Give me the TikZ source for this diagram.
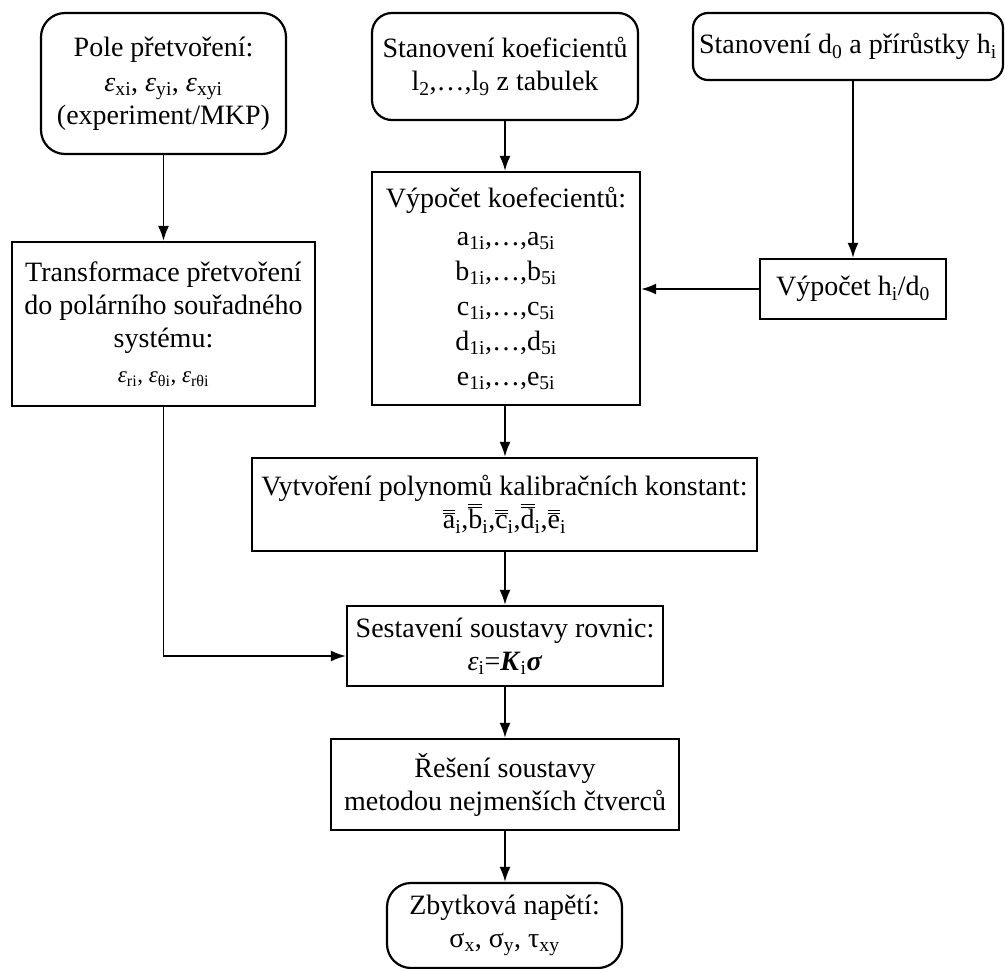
\documentclass[tikz,border=0pt]{standalone}
\usepackage{fontspec}
\setmainfont{Liberation Serif}
\usetikzlibrary{arrows.meta,calc}
\newcommand{\fsz}{\fontsize{28}{33}\selectfont}
\newcommand{\fsm}{\fontsize{23}{30}\selectfont}
\newcommand{\db}[1]{\leavevmode\vbox{\hrule height .9pt\kern2pt\hrule height .9pt\kern1.8pt\hbox{#1}}}
\newcommand{\eps}{\textit{ε}}
\tikzset{
  box/.style={draw, line width=2.2pt, inner sep=0pt, align=center, font=\fsz},
  rbox/.style={box, rounded corners=24pt},
  arr/.style={-{Latex[length=15pt,width=11pt]}, line width=1.9pt}
}
\begin{document}
\begin{tikzpicture}[x=1pt,y=-1pt]
\useasboundingbox[fill=white] (0,0) rectangle (1005,969);

\node[rbox, minimum width=245pt, minimum height=141pt] (b1) at (163.5,83.5)
  {Pole přetvoření:\\[2pt] \eps\textsubscript{xi}, \eps\textsubscript{yi}, \eps\textsubscript{xyi}\\ (experiment/MKP)};
\node[rbox, rounded corners=20pt, minimum width=266pt, minimum height=107pt] (b2) at (505,66.5)
  {Stanovení koeficientů\\ l\textsubscript{2},…,l\textsubscript{9} z tabulek};
\node[rbox, rounded corners=15pt, minimum width=310pt, minimum height=67pt] (b3) at (848,46.5)
  {Stanovení d\textsubscript{0} a přírůstky h\textsubscript{i}};
\node[box, minimum width=303pt, minimum height=164pt] (b4) at (163.5,324)
  {Transformace přetvoření\\ do polárního souřadného\\ systému:\\[2pt] {\fsm\eps\textsubscript{ri}, \eps\textsubscript{θi}, \eps\textsubscript{rθi}}};
\node[box, minimum width=268pt, minimum height=233pt] (b5) at (506,288.5)
  {Výpočet koefecientů:\\[5pt] a\textsubscript{1i},…,a\textsubscript{5i}\\[2pt] b\textsubscript{1i},…,b\textsubscript{5i}\\[2pt]
   c\textsubscript{1i},…,c\textsubscript{5i}\\[2pt] d\textsubscript{1i},…,d\textsubscript{5i}\\[2pt] e\textsubscript{1i},…,e\textsubscript{5i}};
\node[box, minimum width=186pt, minimum height=60pt] (b6) at (853,289)
  {Výpočet h\textsubscript{i}/d\textsubscript{0}};
\node[box, minimum width=505pt, minimum height=93pt] (b7) at (504.5,504.5)
  {Vytvoření polynomů kalibračních konstant:\\ \db{a}\textsubscript{i},\db{b}\textsubscript{i},\db{c}\textsubscript{i},\db{d}\textsubscript{i},\db{e}\textsubscript{i}};
\node[box, minimum width=316pt, minimum height=80pt] (b8) at (505,646)
  {Sestavení soustavy rovnic:\\ \eps\textsubscript{i}=\textbf{\textit{K}}\textsubscript{i}\textbf{\textit{σ}}};
\node[box, minimum width=348pt, minimum height=91pt] (b9) at (505,784.5)
  {Řešení soustavy\\ metodou nejmenších čtverců};
\node[rbox, minimum width=235pt, minimum height=85pt] (b10) at (504.5,925.5)
  {Zbytková napětí:\\ σ\textsubscript{x}, σ\textsubscript{y}, τ\textsubscript{xy}};

\draw[arr] (b1.south) -- (b1.south |- b4.north);
\draw[arr] (b2.south) -- (b2.south |- b5.north);
\draw[arr] (b6.north |- b3.south) -- (b6.north);
\draw[arr] (b6.west) -- (b5.east |- b6.west);
\draw[arr] (b2.south |- b5.south) -- (b2.south |- b7.north);
\draw[arr] (b2.south |- b7.south) -- (b2.south |- b8.north);
\draw[arr] (b4.south) |- ([yshift=-10pt]b8.west);
\draw[arr] (b2.south |- b8.south) -- (b2.south |- b9.north);
\draw[arr] (b2.south |- b9.south) -- (b2.south |- b10.north);
\end{tikzpicture}
\end{document}
